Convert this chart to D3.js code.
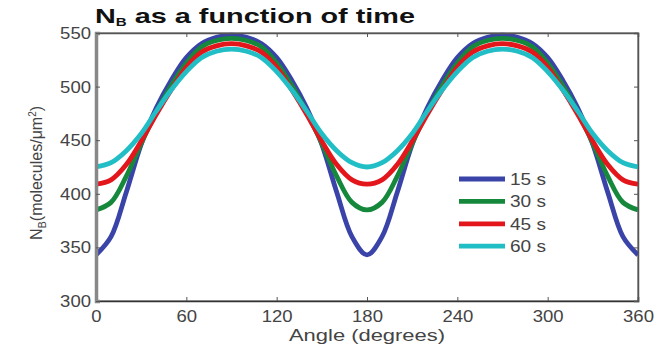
<!DOCTYPE html>
<html>
<head>
<meta charset="utf-8">
<script src="https://cdn.jsdelivr.net/npm/d3@7"></script>
<style>
  body { margin: 0; background: #fff; }
  svg { display: block; font-family: Arial, "Liberation Sans", sans-serif; }
</style>
</head>
<body>
<div id="chart"></div>
<script>
const width = 658;
const height = 346;

// angle samples (degrees)
const angles = d3.range(0, 361, 10);

// N_B, one value per 10 degrees
const n15 = [343, 360, 401, 446, 480, 506, 527, 540, 546, 548, 546, 540, 527, 506, 480, 446, 401, 360, 343,
  360, 401, 446, 480, 506, 527, 540, 546, 548, 546, 540, 527, 506, 480, 446, 401, 360, 343];
const n30 = [385, 392, 416, 447, 476, 501, 522, 537, 543, 545, 543, 537, 522, 501, 476, 447, 416, 392, 385,
  392, 416, 447, 476, 501, 522, 537, 543, 545, 543, 537, 522, 501, 476, 447, 416, 392, 385];
const n45 = [409, 413, 427, 449, 474, 497, 518, 532, 538, 540, 538, 532, 518, 497, 474, 449, 427, 413, 409,
  413, 427, 449, 474, 497, 518, 532, 538, 540, 538, 532, 518, 497, 474, 449, 427, 413, 409];
const n60 = [425, 429, 440, 456, 477, 497, 514, 527, 533, 535, 533, 527, 514, 497, 477, 456, 440, 429, 425,
  429, 440, 456, 477, 497, 514, 527, 533, 535, 533, 527, 514, 497, 477, 456, 440, 429, 425];

const seriesNames = ["15 s", "30 s", "45 s", "60 s"];
const seriesValues = [n15, n30, n45, n60];
const seriesColors = ["#3a44a8", "#16883c", "#e3161c", "#22bec6"];

const xTicks = [0, 60, 120, 180, 240, 300, 360];
const yTicks = [300, 350, 400, 450, 500, 550];

const x = d3.scaleLinear().domain([0, 360]).range([96, 638]);
const y = d3.scaleLinear().domain([300, 550]).range([301, 33]);

const svg = d3.select("#chart").append("svg")
  .attr("width", width)
  .attr("height", height);

// plot box
svg.append("rect")
  .attr("x", x(0)).attr("y", y(550))
  .attr("width", x(360) - x(0)).attr("height", y(300) - y(550))
  .attr("fill", "none").attr("stroke", "#666").attr("stroke-width", 1.2);

// curves
const line = d3.line()
  .x((d, i) => x(angles[i]))
  .y(d => y(d))
  .curve(d3.curveCatmullRom.alpha(0.5));

svg.append("defs").append("clipPath").attr("id", "clip")
  .append("rect")
  .attr("x", x(0)).attr("y", y(550) - 4)
  .attr("width", x(360) - x(0)).attr("height", y(300) - y(550) + 4);

const curves = svg.append("g").attr("clip-path", "url(#clip)");
seriesValues.forEach((vals, k) => {
  curves.append("path")
    .attr("d", line(vals))
    .attr("fill", "none")
    .attr("stroke", seriesColors[k])
    .attr("stroke-width", 4.8)
    .attr("stroke-linejoin", "round");
});

// axes, ticks pointing inward
const xAxis = svg.append("g")
  .attr("transform", `translate(0,${y(300)})`)
  .call(d3.axisBottom(x).tickValues(xTicks).tickSize(-4).tickPadding(6).tickFormat(d3.format("d")));
svg.append("g")
  .attr("transform", `translate(0,${y(550)})`)
  .call(d3.axisTop(x).tickValues(xTicks).tickSize(-4).tickFormat(""));
const yAxis = svg.append("g")
  .attr("transform", `translate(${x(0)},0)`)
  .call(d3.axisLeft(y).tickValues(yTicks).tickSize(-4).tickPadding(5).tickFormat(d3.format("d")));
svg.append("g")
  .attr("transform", `translate(${x(360)},0)`)
  .call(d3.axisRight(y).tickValues(yTicks).tickSize(-4).tickFormat(""));

svg.selectAll(".domain").attr("stroke", "#555").attr("stroke-width", 1.5);
svg.selectAll(".tick line").attr("stroke", "#555");
xAxis.select(".domain").attr("stroke", "#333");
yAxis.select(".domain").attr("stroke", "#888").attr("stroke-width", 3.5);

svg.selectAll(".tick text")
  .attr("font-size", 17)
  .attr("fill", "#444")
  .attr("font-family", "Arial, 'Liberation Sans', sans-serif")
  .attr("textLength", d => String(d).length * 10.3)
  .attr("lengthAdjust", "spacingAndGlyphs");
xAxis.selectAll(".tick text").attr("dy", "0.9em");

// title
const title = svg.append("text")
  .attr("x", 95).attr("y", 23)
  .attr("font-size", 21)
  .attr("font-weight", "bold")
  .attr("fill", "#111")
  .attr("textLength", 320)
  .attr("lengthAdjust", "spacingAndGlyphs");
title.append("tspan").text("N");
title.append("tspan").attr("font-size", 11).attr("dy", 3).text("B");
title.append("tspan").attr("dy", -3).text(" as a function of time");

// axis labels
svg.append("text")
  .attr("x", (x(0) + x(360)) / 2).attr("y", 341)
  .attr("text-anchor", "middle")
  .attr("font-size", 16)
  .attr("fill", "#444")
  .attr("textLength", 156)
  .attr("lengthAdjust", "spacingAndGlyphs")
  .text("Angle (degrees)");

const yl = svg.append("text")
  .attr("transform", `translate(42,${(y(300) + y(550)) / 2 + 6}) rotate(-90)`)
  .attr("text-anchor", "middle")
  .attr("font-size", 16)
  .attr("fill", "#444");
yl.append("tspan").text("N");
yl.append("tspan").attr("font-size", 11).attr("dy", 4).text("B");
yl.append("tspan").attr("dy", -4).text("(molecules/\u03bcm");
yl.append("tspan").attr("font-size", 10).attr("dy", -6).text("2");
yl.append("tspan").attr("dy", 6).text(")");

// legend
const legend = svg.append("g").attr("transform", "translate(459,179)");
seriesNames.forEach((name, k) => {
  const row = legend.append("g").attr("transform", `translate(0,${k * 22.4})`);
  row.append("line")
    .attr("x1", 0).attr("x2", 46)
    .attr("stroke", seriesColors[k])
    .attr("stroke-width", 4.8);
  row.append("text")
    .attr("x", 51).attr("y", 6)
    .attr("font-size", 16)
    .attr("fill", "#444")
    .attr("textLength", 36)
    .attr("lengthAdjust", "spacingAndGlyphs")
    .text(name);
});
</script>
</body>
</html>
